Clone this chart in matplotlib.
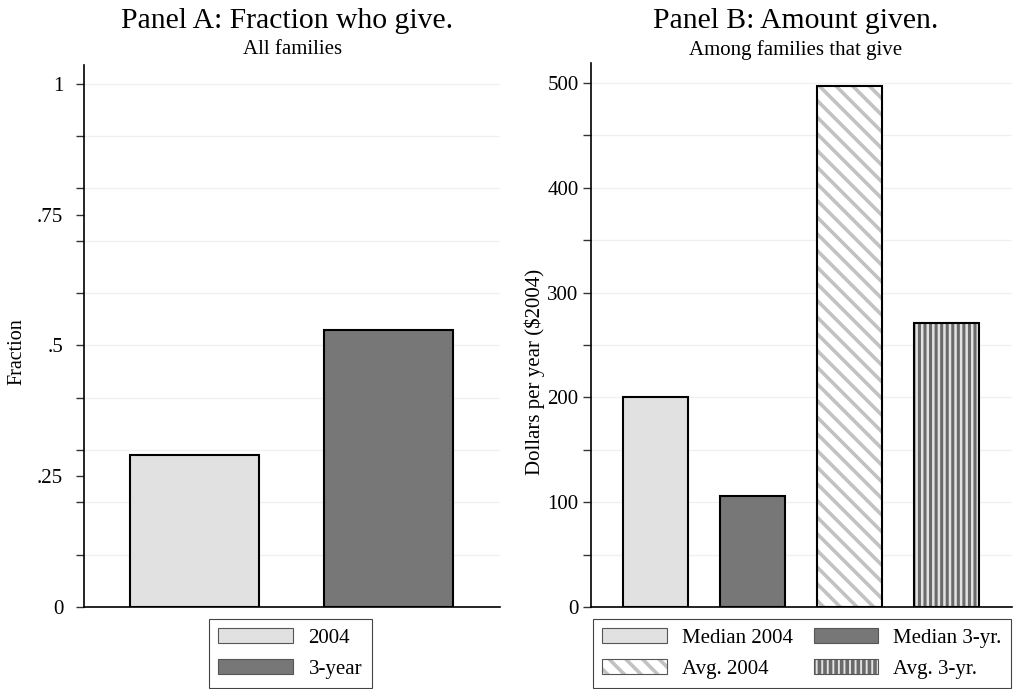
import numpy as np
import matplotlib
matplotlib.use("Agg")
from matplotlib import pyplot as plt
from matplotlib.patches import Patch

plt.rcParams['font.family'] = ['Liberation Serif', 'DejaVu Serif']
plt.rcParams['hatch.linewidth'] = 2.6

# panel A data
fracLabels = ["2004", "3-year"]
fracValues = [0.29, 0.53]
fracColors = ["#e1e1e1", "#777777"]

# panel B data
amtLabels = ["Median 2004", "Median 3-yr.", "Avg. 2004", "Avg. 3-yr."]
amtValues = [200, 106, 497, 271]
amtFace = ["#e1e1e1", "#777777", "white", "#e2e2e2"]
amtHatch = [None, None, "\\\\", "|||"]
amtHatchColor = [None, None, "#c2c2c2", "#6a6a6a"]
amtHatchWidth = [None, None, 2.6, 2.2]

fracMajor = [0, 0.25, 0.5, 0.75, 1]
fracMajorLabels = ["0", ".25", ".5", ".75", "1"]
fracMinor = np.arange(1, 11) / 10
amtMajor = [0, 100, 200, 300, 400, 500]
amtMinor = np.arange(50, 501, 100)
amtGrid = np.arange(50, 501, 50)

W, H = 1016, 689
fig = plt.figure(figsize=(W / 100, H / 100), dpi=100)

def px(x0, y0, x1, y1):
    return [x0 / W, 1 - y1 / H, (x1 - x0) / W, (y1 - y0) / H]

def styleAxis(ax):
    for s in ["top", "right"]:
        ax.spines[s].set_visible(False)
    ax.spines["left"].set_linewidth(1.2)
    ax.spines["bottom"].set_linewidth(1.2)
    ax.tick_params(axis="y", which="both", length=6, width=1.0, color="#333333",
                   labelsize=15)
    ax.tick_params(axis="x", which="both", length=0, labelbottom=False)

barEdge = 1.5
legKw = dict(borderaxespad=0, fancybox=False, edgecolor="#444444", fontsize=15,
             handleheight=0.7, labelspacing=0.55, borderpad=0.45, framealpha=1)

# ---------- Panel A
axA = fig.add_axes(px(84, 65, 500, 607))
xA = np.arange(1, len(fracValues) + 1)
for y in fracMinor:
    axA.axhline(y, color="#f0f0f0", lw=1.0, zorder=0)
axA.bar(xA, fracValues, width=0.663, color=fracColors, edgecolor="black",
        linewidth=barEdge, zorder=2)
axA.set_xlim(0.432, 2.571)
axA.set_ylim(0, 1.036)
axA.set_yticks(fracMajor)
axA.set_yticklabels(fracMajorLabels)
axA.set_yticks(fracMinor, minor=True)
styleAxis(axA)
axA.tick_params(axis="y", which="major", pad=9)
axA.set_ylabel("Fraction", fontsize=14.5)
axA.yaxis.set_label_coords(-0.139, 0.472)

fig.text(287 / W, 1 - 21 / H, "Panel A: Fraction who give.", ha="center", va="center", fontsize=21.3)
fig.text(293 / W, 1 - 50 / H, "All families", ha="center", va="center", fontsize=15)

handlesA = [Patch(facecolor=c, edgecolor="#555555", linewidth=0.8) for c in fracColors]
legA = fig.legend(handlesA, fracLabels, loc="upper center", bbox_to_anchor=(290 / W, 1 - 619 / H),
                  handlelength=3.6, handletextpad=0.75, **legKw)
legA.get_frame().set_linewidth(0.8)

# ---------- Panel B
axB = fig.add_axes(px(591, 63, 1012, 607))
xB = np.arange(1, len(amtValues) + 1)
for y in amtGrid:
    axB.axhline(y, color="#f0f0f0", lw=1.0, zorder=0)
handlesB = []
for i in range(len(amtValues)):
    if amtHatch[i] is None:
        axB.bar(xB[i], amtValues[i], width=0.67, color=amtFace[i], edgecolor="black",
                linewidth=barEdge, zorder=2)
        handlesB.append(Patch(facecolor=amtFace[i], edgecolor="#555555", linewidth=0.8))
    else:
        # hatch colour follows edgecolor, so draw fill+hatch and outline separately
        with plt.rc_context({'hatch.linewidth': amtHatchWidth[i]}):
            axB.bar(xB[i], amtValues[i], width=0.67, color=amtFace[i], hatch=amtHatch[i],
                    edgecolor=amtHatchColor[i], linewidth=0, zorder=2)
            hp = Patch(facecolor=amtFace[i], hatch=amtHatch[i], edgecolor=amtHatchColor[i], linewidth=0)
        axB.bar(xB[i], amtValues[i], width=0.67, fill=False, edgecolor="black",
                linewidth=barEdge, zorder=3)
        op = Patch(fill=False, edgecolor="#555555", linewidth=0.8)
        handlesB.append((hp, op))
axB.set_xlim(0.335, 4.675)
axB.set_ylim(0, 519)
axB.set_yticks(amtMajor)
axB.set_yticks(amtMinor, minor=True)
styleAxis(axB)
axB.tick_params(axis="y", which="major", pad=3)
axB.set_ylabel("Dollars per year ($2004)", fontsize=15)
axB.yaxis.set_label_coords(-0.109, 0.432)

fig.text(796 / W, 1 - 21 / H, "Panel B: Amount given.", ha="center", va="center", fontsize=21.3)
fig.text(796 / W, 1 - 50 / H, "Among families that give", ha="center", va="center", fontsize=15)

order = [0, 2, 1, 3]
legB = fig.legend([handlesB[i] for i in order], [amtLabels[i] for i in order], ncol=2,
                  loc="upper center", bbox_to_anchor=(802 / W, 1 - 619 / H),
                  handlelength=3.1, handletextpad=0.72, columnspacing=1.0, **legKw)
legB.get_frame().set_linewidth(0.8)

fig.savefig("out.png", dpi=100)
